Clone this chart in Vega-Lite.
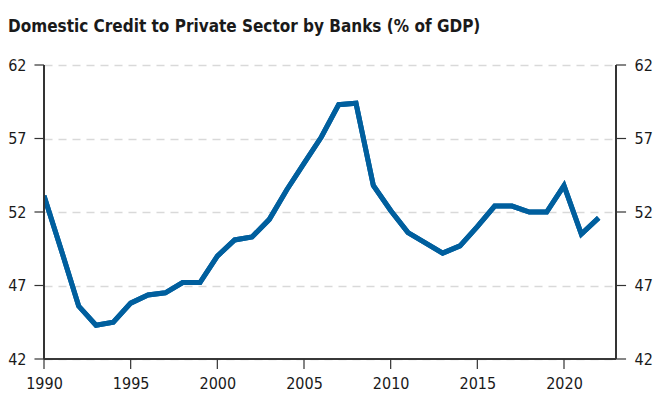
{
  "$schema": "https://vega.github.io/schema/vega-lite/v6.json",
  "width": 572,
  "height": 294,
  "autosize": "none",
  "padding": {"left": 44, "top": 65, "right": 38, "bottom": 43},
  "background": "white",
  "title": {
    "text": "Domestic Credit to Private Sector by Banks (% of GDP)",
    "anchor": "start",
    "frame": "group",
    "dx": -36,
    "offset": 8,
    "baseline": "alphabetic",
    "font": "DejaVu Sans Condensed, Roboto, sans-serif",
    "fontWeight": "bold",
    "fontSize": 17,
    "color": "#1a1a1a"
  },
  "config": {
    "view": {"stroke": null},
    "axis": {
      "labelFont": "DejaVu Sans Condensed, Roboto, sans-serif",
      "labelFontSize": 16,
      "labelColor": "#1a1a1a",
      "labelPadding": 8,
      "labelFlush": false,
      "labelOverlap": false,
      "domain": false,
      "ticks": true,
      "tickOpacity": 0,
      "tickSize": 10
    }
  },
  "datasets": {
    "credit": [
      {"year": 1990, "value": 53.1},
      {"year": 1991, "value": 49.4},
      {"year": 1992, "value": 45.6},
      {"year": 1993, "value": 44.3},
      {"year": 1994, "value": 44.5},
      {"year": 1995, "value": 45.8},
      {"year": 1996, "value": 46.35},
      {"year": 1997, "value": 46.5},
      {"year": 1998, "value": 47.2},
      {"year": 1999, "value": 47.2},
      {"year": 2000, "value": 49.0},
      {"year": 2001, "value": 50.1},
      {"year": 2002, "value": 50.3},
      {"year": 2003, "value": 51.5},
      {"year": 2004, "value": 53.5},
      {"year": 2005, "value": 55.3},
      {"year": 2006, "value": 57.1},
      {"year": 2007, "value": 59.3},
      {"year": 2008, "value": 59.4},
      {"year": 2009, "value": 53.8},
      {"year": 2010, "value": 52.1},
      {"year": 2011, "value": 50.6},
      {"year": 2012, "value": 49.9},
      {"year": 2013, "value": 49.2},
      {"year": 2014, "value": 49.7},
      {"year": 2015, "value": 51.0},
      {"year": 2016, "value": 52.4},
      {"year": 2017, "value": 52.4},
      {"year": 2018, "value": 52.0},
      {"year": 2019, "value": 52.0},
      {"year": 2020, "value": 53.8},
      {"year": 2021, "value": 50.5},
      {"year": 2022, "value": 51.6}
    ],
    "xticks": [
      {"tick": 1990}, {"tick": 1995}, {"tick": 2000}, {"tick": 2005},
      {"tick": 2010}, {"tick": 2015}, {"tick": 2020}
    ],
    "yticks": [
      {"tick": 42}, {"tick": 47}, {"tick": 52}, {"tick": 57}, {"tick": 62}
    ]
  },
  "layer": [
    {
      "data": {"name": "credit"},
      "mark": {"type": "line", "color": "#005f9e", "strokeWidth": 5, "strokeJoin": "miter", "clip": true},
      "encoding": {
        "x": {
          "field": "year",
          "type": "quantitative",
          "title": null,
          "scale": {"domain": [1990, 2023], "nice": false, "zero": false},
          "axis": {"values": [1990, 1995, 2000, 2005, 2010, 2015, 2020], "format": "d", "grid": false, "labelPadding": 6}
        },
        "y": {
          "field": "value",
          "type": "quantitative",
          "title": null,
          "scale": {"domain": [42, 62], "nice": false, "zero": false},
          "axis": {
            "orient": "left",
            "values": [42, 47, 52, 57, 62],
            "grid": true,
            "gridColor": "#d9d9d9",
            "gridDash": [8, 6],
            "gridWidth": 1.5
          }
        }
      }
    },
    {
      "data": {"name": "credit"},
      "mark": {"type": "line", "color": "#005f9e", "strokeWidth": 5, "strokeJoin": "miter", "clip": true},
      "encoding": {
        "x": {
          "field": "year",
          "type": "quantitative",
          "title": null,
          "scale": {"domain": [1990, 2023], "nice": false, "zero": false},
          "axis": null
        },
        "y": {
          "field": "value",
          "type": "quantitative",
          "title": null,
          "scale": {"domain": [42, 62], "nice": false, "zero": false},
          "axis": {
            "orient": "right",
            "values": [42, 47, 52, 57, 62],
            "grid": false
          }
        }
      }
    },
    {
      "data": {"name": "xticks"},
      "mark": {"type": "rule", "color": "#333333", "strokeWidth": 1.2},
      "encoding": {
        "x": {"field": "tick", "type": "quantitative", "axis": null, "scale": {"domain": [1990, 2023], "nice": false, "zero": false}},
        "y": {"datum": 42, "type": "quantitative", "axis": null, "scale": {"domain": [42, 62], "nice": false, "zero": false}},
        "y2": {"datum": 41.32}
      }
    },
    {
      "data": {"name": "yticks"},
      "mark": {"type": "rule", "color": "#333333", "strokeWidth": 1.2},
      "encoding": {
        "y": {"field": "tick", "type": "quantitative", "axis": null, "scale": {"domain": [42, 62], "nice": false, "zero": false}},
        "x": {"datum": 1990, "type": "quantitative", "axis": null, "scale": {"domain": [1990, 2023], "nice": false, "zero": false}},
        "x2": {"datum": 1989.45}
      }
    },
    {
      "data": {"name": "yticks"},
      "mark": {"type": "rule", "color": "#333333", "strokeWidth": 1.2},
      "encoding": {
        "y": {"field": "tick", "type": "quantitative", "axis": null, "scale": {"domain": [42, 62], "nice": false, "zero": false}},
        "x": {"datum": 2023, "type": "quantitative", "axis": null, "scale": {"domain": [1990, 2023], "nice": false, "zero": false}},
        "x2": {"datum": 2023.58}
      }
    },
    {
      "data": {"name": "yticks"},
      "mark": {"type": "rule", "color": "#333333", "strokeWidth": 1.2},
      "encoding": {
        "x": {"datum": 1990, "type": "quantitative", "axis": null, "scale": {"domain": [1990, 2023], "nice": false, "zero": false}},
        "y": {"datum": 42, "type": "quantitative", "axis": null, "scale": {"domain": [42, 62], "nice": false, "zero": false}},
        "x2": {"datum": 2023}
      }
    },
    {
      "data": {"name": "yticks"},
      "mark": {"type": "rule", "color": "#333333", "strokeWidth": 1.2},
      "encoding": {
        "x": {"datum": 1990, "type": "quantitative", "axis": null, "scale": {"domain": [1990, 2023], "nice": false, "zero": false}},
        "y": {"datum": 42, "type": "quantitative", "axis": null, "scale": {"domain": [42, 62], "nice": false, "zero": false}},
        "y2": {"datum": 62}
      }
    },
    {
      "data": {"name": "yticks"},
      "mark": {"type": "rule", "color": "#333333", "strokeWidth": 1.2},
      "encoding": {
        "x": {"datum": 2023, "type": "quantitative", "axis": null, "scale": {"domain": [1990, 2023], "nice": false, "zero": false}},
        "y": {"datum": 42, "type": "quantitative", "axis": null, "scale": {"domain": [42, 62], "nice": false, "zero": false}},
        "y2": {"datum": 62}
      }
    }
  ],
  "resolve": {"axis": {"x": "independent", "y": "independent"}}
}
